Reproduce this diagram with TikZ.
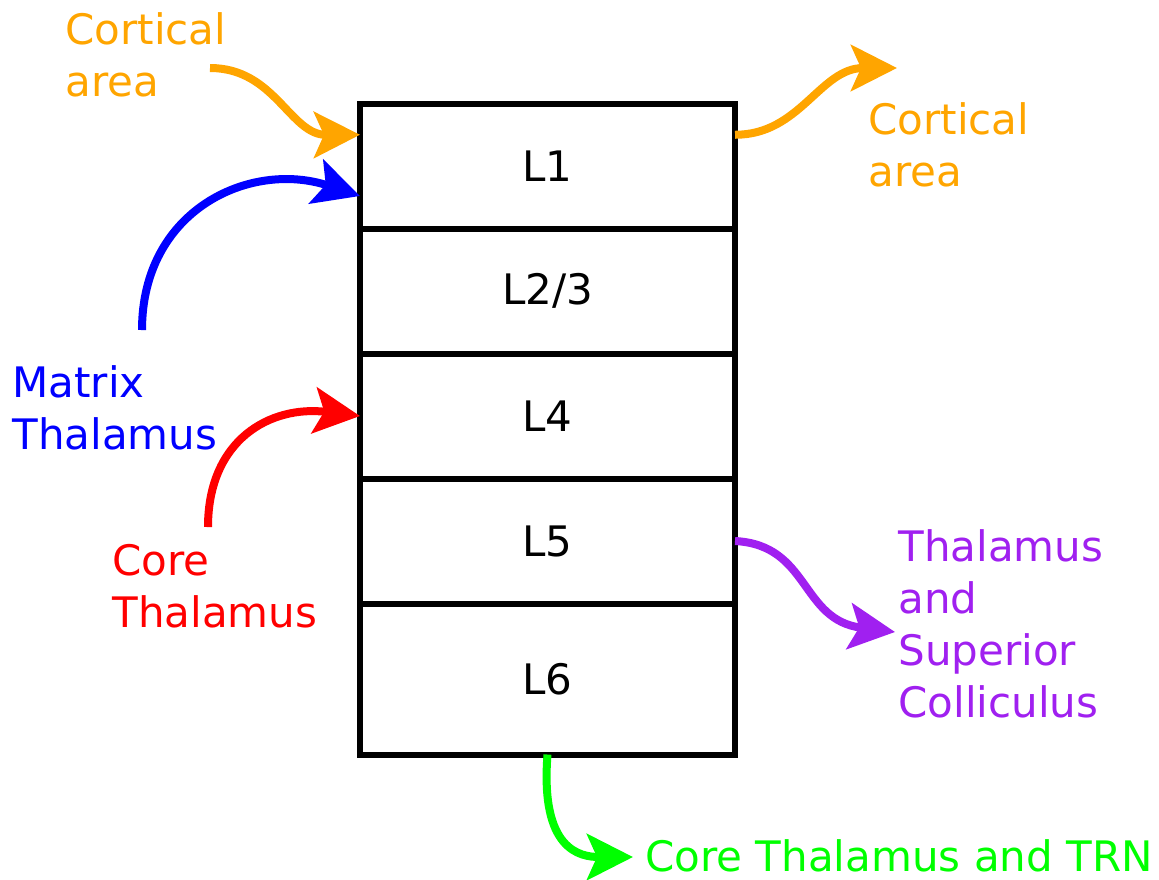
\documentclass[tikz,border=0pt]{standalone}
\usepackage{fontspec}
\setmainfont{DejaVu Sans}
\usetikzlibrary{arrows.meta, positioning, calc}

\definecolor{cortical}{HTML}{FFA500}
\definecolor{matrixth}{HTML}{0000FF}
\definecolor{coreth}{HTML}{FF0000}
\definecolor{colliculus}{HTML}{A020F0}
\definecolor{trn}{HTML}{00FF00}

\tikzset{
  layer/.style={draw, line width=3pt, minimum width=187.5pt, minimum height=62.5pt,
    outer sep=0pt, inner sep=0pt},
  proj/.style={line width=4pt, -{Stealth[length=23pt, width=23pt, inset=5pt]}},
  lbl/.style={anchor=north west, inner sep=0pt, align=left},
}

\begin{document}
\begin{tikzpicture}[x=0.5pt, y=-0.5pt, font=\fontsize{21}{26}\selectfont]
    \useasboundingbox (0,0) rectangle (1159,879);

    % cortical layers
    \node[layer] (l1) at (547.5,166) {L1};
    \node[layer, below=0pt of l1] (l23) {L2/3};
    \node[layer, below=0pt of l23] (l4) {L4};
    \node[layer, below=0pt of l4] (l5) {L5};
    \node[layer, below=0pt of l5, minimum height=75.5pt] (l6) {L6};

    % labels
    \node[lbl, text=cortical] (cortin) at (65,12) {Cortical\\area};
    \node[lbl, text=cortical] (cortout) at (868,102) {Cortical\\area};
    \node[lbl, text=matrixth] (matrix) at (12,365) {Matrix\\Thalamus};
    \node[lbl, text=coreth] (core) at (112,544) {Core\\Thalamus};
    \node[lbl, text=colliculus] (sc) at (898,529) {Thalamus\\and\\Superior\\Colliculus};
    \node[text=trn, anchor=west, inner sep=0pt] (trnlbl) at (645,856) {Core Thalamus and TRN};

    % inputs
    \coordinate (cortsrc) at (210,68);
    \coordinate (matrixsrc) at (142,330);
    \coordinate (coresrc) at (208,527);
    \draw[proj, cortical] (cortsrc) .. controls (275,68) and (290,135) .. ($(l1.north west)!0.25!(l1.south west)$);
    \draw[proj, matrixth] (matrixsrc) .. controls (142,210) and (250,160) .. ($(l1.north west)!0.74!(l1.south west)$);
    \draw[proj, coreth] (coresrc) .. controls (208,440) and (270,405) .. (l4.west);

    % outputs
    \coordinate (cortdst) at (897,68);
    \coordinate (scdst) at (895,632);
    \coordinate (trndst) at (633,857);
    \draw[proj, cortical] ($(l1.north east)!0.25!(l1.south east)$) .. controls (800,135) and (820,68) .. (cortdst);
    \draw[proj, colliculus] (l5.east) .. controls (810,545) and (800,620) .. (scdst);
    \draw[proj, trn] (l6.south) .. controls (540,850) and (580,857) .. (trndst);
\end{tikzpicture}
\end{document}
